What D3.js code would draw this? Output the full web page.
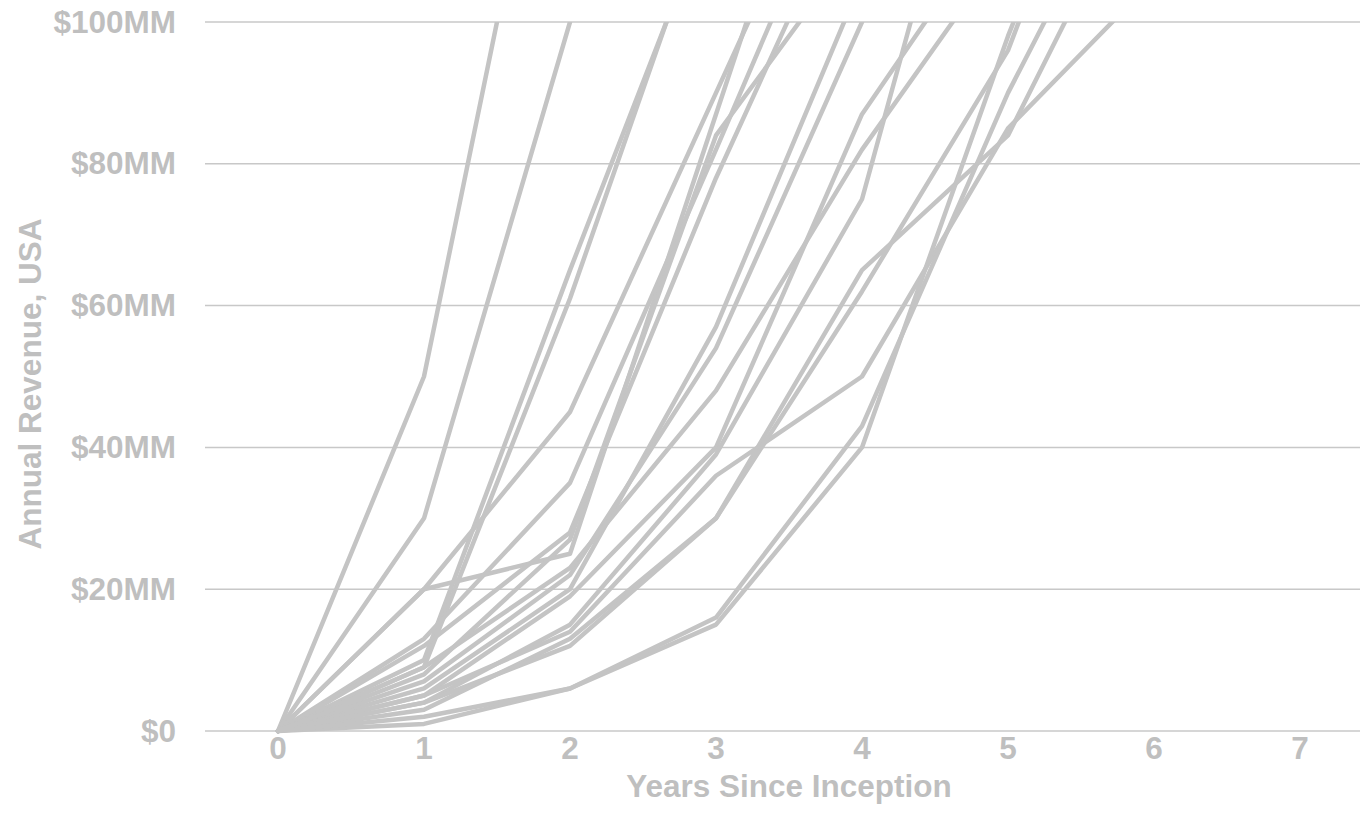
<!DOCTYPE html>
<html>
<head>
<meta charset="utf-8">
<script src="https://cdn.jsdelivr.net/npm/d3@7"></script>
<style>
  html, body { margin: 0; padding: 0; background: #ffffff; }
  svg { display: block; }
  text { font-family: "Liberation Sans", Arial, sans-serif; font-weight: bold; fill: #bfbfbf; }
</style>
</head>
<body>
<svg id="chart" width="1360" height="831"></svg>
<script>
// ---- data ----
const years = [0, 1, 2, 3, 4, 5, 6, 7];
const yTicks = [0, 20, 40, 60, 80, 100];
const yTickLabels = ["$0", "$20MM", "$40MM", "$60MM", "$80MM", "$100MM"];
const xTitle = "Years Since Inception";
const yTitle = "Annual Revenue, USA";
// annual revenue (millions USD) by year since inception, one array per company
const company01 = [0, 50, 150];
const company02 = [0, 30, 100];
const company03 = [0, 10, 65, 118];
const company04 = [0, 9, 61, 120];
const company05 = [0, 20, 45, 90, 135];
const company06 = [0, 13, 35, 82, 130];
const company07 = [0, 20, 25, 87, 149];
const company08 = [0, 12, 28, 78, 123];
const company09 = [0, 6, 20, 57, 106];
const company10 = [0, 7, 22, 54, 100];
const company11 = [0, 5, 19, 40, 87, 117];
const company12 = [0, 4, 15, 39, 75, 150];
const company13 = [0, 9, 23, 48, 82, 111];
const company14 = [0, 5, 14, 36, 50, 85, 106];
const company15 = [0, 3, 13, 30, 65, 84, 125];
const company16 = [0, 4, 12, 30, 62, 96, 150];
const company17 = [0, 1, 6, 15, 40, 98, 150];
const company18 = [0, 2, 6, 16, 43, 90, 130];
const company19 = [0, 8, 27, 84, 112];
const series = [company01, company02, company03, company04, company05, company06, company07,
  company08, company09, company10, company11, company12, company13, company14, company15,
  company16, company17, company18, company19];

// ---- layout ----
const svg = d3.select("#chart");
const plotLeft = 205, plotRight = 1373, plotTop = 22, plotBottom = 731;
const fontSize = "31.5px";

const x = d3.scaleBand().domain(years).range([plotLeft, plotRight]).paddingInner(0).paddingOuter(0);
const xc = d => x(d) + x.bandwidth() / 2;
const y = d3.scaleLinear().domain([0, 100]).range([plotBottom, plotTop]);

svg.append("defs").append("clipPath").attr("id", "plotclip")
  .append("rect").attr("x", plotLeft).attr("y", plotTop).attr("width", 1360 - plotLeft).attr("height", plotBottom - plotTop + 10);

// gridlines
svg.append("g").selectAll("line").data(yTicks).join("line")
  .attr("x1", plotLeft).attr("x2", 1360)
  .attr("y1", d => y(d)).attr("y2", d => y(d))
  .attr("stroke", "#c8c8c8").attr("stroke-width", 1.5);

// y axis labels
const yAxis = d3.axisLeft(y).tickValues(yTicks).tickSize(0).tickPadding(0)
  .tickFormat((d, i) => yTickLabels[i]);
const gy = svg.append("g").attr("transform", `translate(176,0)`).call(yAxis);
gy.select(".domain").remove();
gy.selectAll("text").style("font-size", fontSize).attr("fill", "#bfbfbf")
  .style("font-family", "'Liberation Sans', Arial, sans-serif").style("font-weight", "bold");

// x axis labels
const xAxis = d3.axisBottom(x).tickSize(0).tickPadding(0);
const gx = svg.append("g").attr("transform", `translate(0,${plotBottom + 6})`).call(xAxis);
gx.select(".domain").remove();
gx.selectAll("text").style("font-size", fontSize).attr("fill", "#bfbfbf")
  .style("font-family", "'Liberation Sans', Arial, sans-serif").style("font-weight", "bold");

// lines
const line = d3.line().x((d, i) => xc(years[i])).y(d => y(d));
svg.append("g").attr("clip-path", "url(#plotclip)")
  .selectAll("path").data(series).join("path")
  .attr("d", line)
  .attr("fill", "none")
  .attr("stroke", "#c4c4c4")
  .attr("stroke-width", 4.5)
  .attr("stroke-linejoin", "round")
  .attr("stroke-linecap", "round");

// titles
svg.append("text").attr("x", 789).attr("y", 797).attr("text-anchor", "middle")
  .style("font-size", fontSize).text(xTitle);
svg.append("text").attr("transform", `translate(41,384) rotate(-90)`).attr("text-anchor", "middle")
  .style("font-size", fontSize).text(yTitle);
</script>
</body>
</html>
